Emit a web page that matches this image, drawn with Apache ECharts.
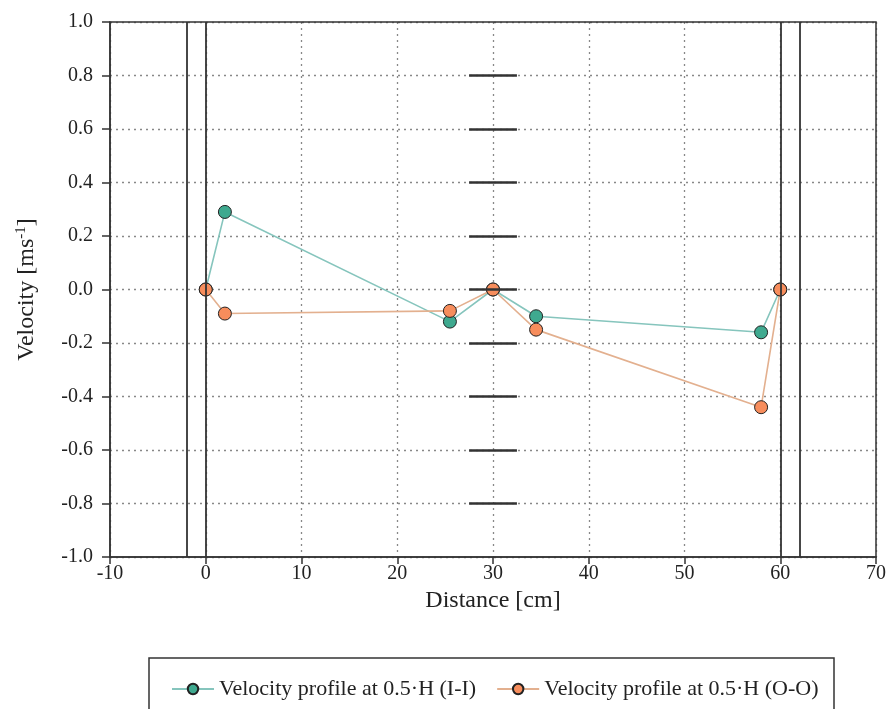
<!DOCTYPE html>
<html>
<head>
<meta charset="utf-8">
<script src="https://cdn.jsdelivr.net/npm/echarts@6/dist/echarts.min.js"></script>
<style>
    html, body { margin: 0; padding: 0; background: #fff; }
    #chart { width: 889px; height: 709px; }
</style>
</head>
<body>
<div id="chart"></div>
<script>
    // 数据
    var distI = [0, 2, 25.5, 30, 34.5, 58, 60];
    var velI = [0, 0.29, -0.12, 0, -0.10, -0.16, 0];
    var distO = [0, 2, 25.5, 30, 34.5, 58, 60];
    var velO = [0, -0.09, -0.08, 0, -0.15, -0.44, 0];
    var wallX = [-2, 0, 60, 62];          // 墙体竖线
    var probeX = [27.5, 32.5];            // 中间测杆短线范围
    var probeY = [0.8, 0.6, 0.4, 0.2, 0, -0.2, -0.4, -0.6, -0.8];
    var nameI = 'Velocity profile at 0.5\u00b7H (I-I)';
    var nameO = 'Velocity profile at 0.5\u00b7H (O-O)';

    var serif = 'Liberation Serif';

    function pairs(xs, ys) {
        var out = [];
        for (var i = 0; i < xs.length; i++) out.push([xs[i], ys[i]]);
        return out;
    }

    var marks = [];
    wallX.forEach(function (x) { marks.push({ xAxis: x }); });
    probeY.forEach(function (y) {
        marks.push([{ coord: [probeX[0], y], lineStyle: { width: 2.5 } }, { coord: [probeX[1], y] }]);
    });

    var option = {
        backgroundColor: '#fff',
        animation: false,
        grid: { left: 110, right: 13, top: 22, bottom: 152 },
        legend: {
            top: 673,
            left: 166,
            itemWidth: 42,
            itemHeight: 13,
            itemGap: 20,
            data: [nameI, nameO],
            textStyle: { fontFamily: serif, fontSize: 22, color: '#222' }
        },
        xAxis: {
            type: 'value',
            min: -10, max: 70, interval: 10,
            name: 'Distance [cm]',
            nameLocation: 'middle',
            nameGap: 31,
            nameTextStyle: { fontFamily: serif, fontSize: 24, color: '#222' },
            axisLine: { show: true, onZero: false, lineStyle: { color: '#333', width: 1.5 } },
            axisTick: { show: true, length: 7, lineStyle: { color: '#333', width: 1.5 } },
            axisLabel: { fontFamily: serif, fontSize: 20, color: '#222', margin: 7 },
            splitLine: { show: true, lineStyle: { color: '#888', type: [2, 4], width: 1.3 } }
        },
        yAxis: {
            type: 'value',
            min: -1, max: 1, interval: 0.2,
            name: '{n|Velocity [ms}{s|-1}{n|]}',
            nameLocation: 'middle',
            nameGap: 70,
            nameTextStyle: {
                rich: {
                    n: { fontFamily: serif, fontSize: 24, color: '#222' },
                    s: { fontFamily: serif, fontSize: 15, color: '#222', padding: [0, 0, 11, 0] }
                }
            },
            axisLine: { show: true, onZero: false, lineStyle: { color: '#333', width: 1.5 } },
            axisTick: { show: true, length: 8, lineStyle: { color: '#333', width: 1.5 } },
            axisLabel: {
                fontFamily: serif, fontSize: 20, color: '#222', margin: 17,
                formatter: function (v) { return v.toFixed(1); }
            },
            splitLine: { show: true, lineStyle: { color: '#888', type: [2, 4], width: 1.3 } }
        },
        series: [
            {
                name: 'frame',
                type: 'line',
                data: [],
                silent: true,
                markLine: {
                    silent: true,
                    symbol: ['none', 'none'],
                    label: { show: false },
                    lineStyle: { color: '#333', type: 'solid', width: 1.8 },
                    data: marks
                }
            },
            {
                name: nameI,
                type: 'line',
                data: pairs(distI, velI),
                symbol: 'circle',
                symbolSize: 13,
                z: 3,
                lineStyle: { color: '#86c5bd', width: 1.6 },
                itemStyle: { color: '#3fa98f', borderColor: '#222', borderWidth: 1 }
            },
            {
                name: nameO,
                type: 'line',
                data: pairs(distO, velO),
                symbol: 'circle',
                symbolSize: 13,
                z: 4,
                lineStyle: { color: '#e3b08f', width: 1.6 },
                itemStyle: { color: '#f78d5c', borderColor: '#222', borderWidth: 1 }
            }
        ]
    };

    var myChart = echarts.init(document.getElementById('chart'));
    myChart.setOption(option);
    // 图例外框, 以及绘图区的上边框和右边框
    var gr = myChart.getModel().getComponent('grid').coordinateSystem.getRect();
    myChart.setOption({
        graphic: [
            {
                type: 'rect',
                shape: { x: 149, y: 658, width: 685, height: 70 },
                style: { fill: 'none', stroke: '#333', lineWidth: 1.5 },
                silent: true
            },
            {
                type: 'rect',
                shape: { x: gr.x, y: gr.y, width: gr.width, height: gr.height },
                style: { fill: 'none', stroke: '#333', lineWidth: 1.5 },
                silent: true,
                z: 10
            }
        ]
    });
</script>
</body>
</html>
